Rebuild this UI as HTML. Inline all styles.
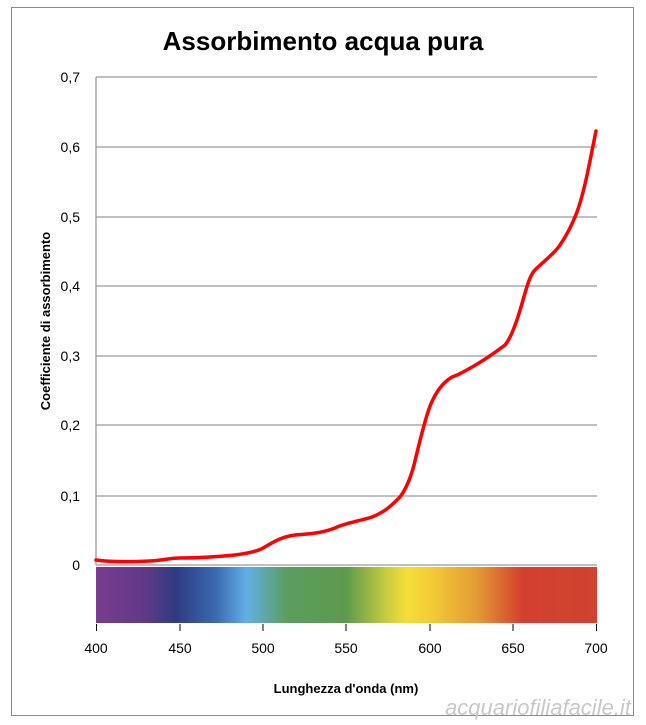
<!DOCTYPE html>
<html><head><meta charset="utf-8"><style>
body{margin:0;background:#fff;}
svg{display:block;font-family:"Liberation Sans",sans-serif;}
</style></head><body>
<svg width="646" height="725" viewBox="0 0 646 725">
<defs>
<linearGradient id="sp" x1="0" x2="1" y1="0" y2="0">
<stop offset="0" stop-color="#7a3c8e"/>
<stop offset="0.1" stop-color="#5f3a86"/>
<stop offset="0.16" stop-color="#2e3b82"/>
<stop offset="0.24" stop-color="#3b6bb0"/>
<stop offset="0.3" stop-color="#62aee6"/>
<stop offset="0.38" stop-color="#5b9d62"/>
<stop offset="0.5" stop-color="#5e9a4c"/>
<stop offset="0.58" stop-color="#c8cc40"/>
<stop offset="0.62" stop-color="#f5de38"/>
<stop offset="0.67" stop-color="#f2cb38"/>
<stop offset="0.76" stop-color="#e39b35"/>
<stop offset="0.85" stop-color="#d4402f"/>
<stop offset="1" stop-color="#cf432f"/>
</linearGradient>
</defs>
<rect x="11.5" y="7.5" width="622" height="708" fill="#fff" stroke="#8c8c8c"/>
<text x="323" y="50" text-anchor="middle" font-size="26" font-weight="bold" fill="#000">Assorbimento acqua pura</text>
<g stroke="#9a9a9a" stroke-width="1.3">
<line x1="96" x2="597" y1="77" y2="77"/>
<line x1="96" x2="597" y1="147" y2="147"/>
<line x1="96" x2="597" y1="217" y2="217"/>
<line x1="96" x2="597" y1="286" y2="286"/>
<line x1="96" x2="597" y1="356" y2="356"/>
<line x1="96" x2="597" y1="425" y2="425"/>
<line x1="96" x2="597" y1="496" y2="496"/>
<line x1="96" x2="597" y1="565" y2="565"/>
<line x1="96" x2="96" y1="77" y2="565"/>
</g>
<g font-size="14" fill="#000" text-anchor="end">
<text x="80" y="82">0,7</text><text x="80" y="152">0,6</text><text x="80" y="222">0,5</text>
<text x="80" y="291">0,4</text><text x="80" y="361">0,3</text><text x="80" y="430">0,2</text>
<text x="80" y="501">0,1</text><text x="80" y="570">0</text>
</g>
<text transform="translate(50,321) rotate(-90)" text-anchor="middle" font-size="13" font-weight="bold">Coefficiente di assorbimento</text>
<rect x="96" y="567" width="501" height="56" fill="url(#sp)"/>
<g stroke="#000" stroke-width="1">
<line x1="96.5" x2="96.5" y1="624" y2="631"/><line x1="180" x2="180" y1="624" y2="631"/>
<line x1="263" x2="263" y1="624" y2="631"/><line x1="346" x2="346" y1="624" y2="631"/>
<line x1="430" x2="430" y1="624" y2="631"/><line x1="513" x2="513" y1="624" y2="631"/>
<line x1="596.5" x2="596.5" y1="624" y2="631"/>
</g>
<g font-size="14" text-anchor="middle">
<text x="96" y="653">400</text><text x="180" y="653">450</text><text x="263" y="653">500</text>
<text x="346" y="653">550</text><text x="430" y="653">600</text><text x="513" y="653">650</text><text x="596" y="653">700</text>
</g>
<text x="346" y="693" text-anchor="middle" font-size="13" font-weight="bold">Lunghezza d'onda (nm)</text>
<text x="538" y="715" text-anchor="middle" font-size="22" font-style="italic" fill="#c8c8c8">acquariofiliafacile.it</text>
<path fill="none" stroke="#ff0000" stroke-width="3.5" stroke-linejoin="round" stroke-linecap="round"
d="M96,560 C110,562 130,562 150,561 C165,560 170,558 180,558 C200,558 215,557 235,555 C250,553 258,551 263,548 C272,543 280,537 295,535 C310,534 322,533 335,528 C345,523 360,521 372,517 C385,512 392,505 400,497 C406,489 410,480 414,465 C420,440 423,428 427,415 C433,395 442,383 452,377 C458,375 460,374 465,371 C480,363 492,355 505,345 C512,337 518,318 523,300 C527,286 530,275 535,270 C545,260 555,253 560,245 C567,235 572,225 577,212 C585,190 590,160 596,131"/>
</svg>
</body></html>
